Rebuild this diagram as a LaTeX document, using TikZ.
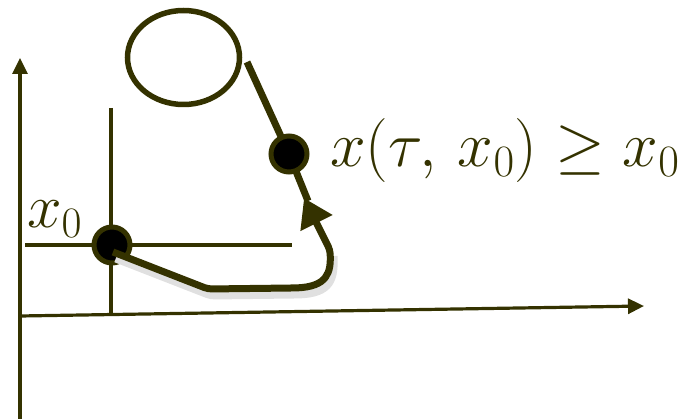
\documentclass[tikz,border=0pt]{standalone}
\usepackage{fix-cm}
\usetikzlibrary{arrows.meta,shapes.geometric}
\definecolor{olv}{RGB}{52,50,0}
\begin{document}
\begin{tikzpicture}[x=1pt,y=-1pt,
  thinln/.style={draw=olv,line width=3.2pt},
  thickln/.style={draw=olv,line width=7pt},
  dotnode/.style={circle,fill=black,draw=olv,line width=5pt,minimum size=36pt,inner sep=0pt},
  lbl/.style={text=olv,inner sep=0pt},
  axtip/.style={-{Triangle[length=16pt,width=15pt]}}]
\useasboundingbox (0,0) rectangle (686,419);
% axes
\coordinate (yb) at (20,419);
\coordinate (yt) at (20,58);
\coordinate (xl) at (20,316);
\coordinate (xr) at (644,306);
\draw[thinln,axtip] (yb) -- (yt);
\draw[thinln,axtip] (xl) -- (xr);
% cross lines at x0
\coordinate (vt) at (111,108);
\coordinate (vb) at (111,316);
\coordinate (hl) at (25,245);
\coordinate (hr) at (292,245);
\draw[thinln] (vt) -- (vb);
\draw[thinln] (hl) -- (hr);
% labels
\node[lbl,font=\fontsize{62}{72}\selectfont,anchor=base west] (lx0) at (27,228) {$x_0$};
\node[lbl,font=\fontsize{64}{76}\selectfont,anchor=base west] (lxt) at (330,167) {$x(\tau,\,x_0)\geq x_0$};
% orbit
\node[ellipse,draw=olv,line width=5.5pt,minimum width=112pt,minimum height=94pt,inner sep=0pt] (orb) at (183.5,57.5) {};
% first dot
\node[dotnode] (dot1) at (112,245) {};
% shadow of trajectory
\draw[line width=9pt,black!12,rounded corners=4pt] (116,258) -- (211,295) -- (295,294) .. controls (331,293) and (334,278) .. (333,256);
% trajectory line from orbit down through second point
\coordinate (l2s) at (247,62);
\coordinate (p2) at (289,154);
\coordinate (l2e) at (308,201);
\draw[thickln] (l2s) -- (p2) -- (l2e);
% trajectory from x0 with arrow
\coordinate (ce) at (304,198);
\draw[thickln,rounded corners=4pt,-{Triangle[length=28pt,width=34pt]}] ([shift={(1,7)}]dot1.center) -- (208,289) -- (292,288) .. controls (328,287) and (331,272) .. (330,250) -- (ce);
% second dot
\node[dotnode] (dot2) at (p2) {};
\end{tikzpicture}
\end{document}
